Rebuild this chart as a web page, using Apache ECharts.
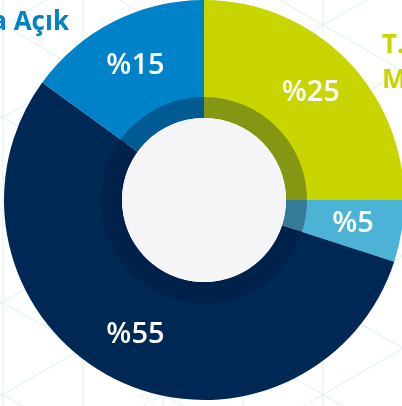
<!DOCTYPE html>
<html>
<head>
<meta charset="utf-8">
<script src="https://cdn.jsdelivr.net/npm/echarts@6/dist/echarts.min.js"></script>
<style>
  html, body { margin: 0; padding: 0; background: #ffffff; }
  #chart { width: 402px; height: 406px; }
</style>
</head>
<body>
<div id="chart"></div>
<script>
// slices, clockwise from 12 o'clock
const categories = ["T.C.\nMerkez", "Diğer", "Kapalı", "Yarıya Açık"];
const values = [25, 5, 55, 15];
const labels = ["%25", "%5", "%55", "%15"];
const colors = ["#c8d500", "#4db3d6", "#002855", "#0082c8"];
const ringColors = ["#849612", "#347b99", "#00214a", "#005a94"];

const chart = echarts.init(document.getElementById("chart"));

// faint triangular background pattern
const grid = [];
const t30 = Math.tan(Math.PI / 6);
for (let x = 3; x <= 410; x += 80) {
  grid.push({ type: "line", shape: { x1: x, y1: 0, x2: x, y2: 406 }, style: { stroke: "#e2f3f5", lineWidth: 1.2 } });
}
for (let n = -8; n <= 8; n++) {
  const y0 = 25 + 92.4 * n;
  grid.push({ type: "line", shape: { x1: 0, y1: y0 - 323 * t30, x2: 402, y2: y0 + 79 * t30 }, style: { stroke: "#e2f3f5", lineWidth: 1.2 } });
  grid.push({ type: "line", shape: { x1: 0, y1: y0 + 323 * t30, x2: 402, y2: y0 - 79 * t30 }, style: { stroke: "#e2f3f5", lineWidth: 1.2 } });
}

chart.setOption({
  animation: false,
  graphic: [
    { type: "group", z: -10, silent: true, children: grid },
    {
      type: "text", z: 10, right: 333, top: 10,
      style: { text: categories[3], fill: "#0082c8", font: "bold 26px 'Open Sans'", textAlign: "right" }
    },
    {
      type: "text", z: 10, left: 382, top: 28,
      style: { text: categories[0], fill: "#c8d500", font: "bold 26px 'Open Sans'", lineHeight: 35 }
    }
  ],
  series: [
    {
      type: "pie",
      center: [204, 200],
      radius: [96, 200],
      startAngle: 90,
      clockwise: true,
      silent: true,
      z: 2,
      label: {
        show: true,
        position: "inside",
        color: "#fff",
        fontFamily: "Open Sans",
        fontWeight: 600,
        fontSize: 29,
        formatter: p => labels[p.dataIndex]
      },
      labelLine: { show: false },
      data: categories.map((c, i) => ({ name: c, value: values[i], itemStyle: { color: colors[i] } }))
    },
    {
      type: "pie",
      center: [204, 200],
      radius: [82, 103],
      startAngle: 90,
      silent: true,
      z: 3,
      label: { show: false },
      labelLine: { show: false },
      data: categories.map((c, i) => ({ name: c, value: values[i], itemStyle: { color: ringColors[i] } }))
    },
    {
      type: "pie",
      center: [204, 200],
      radius: [0, 82],
      silent: true,
      z: 4,
      label: { show: false },
      labelLine: { show: false },
      data: [{ value: 1, itemStyle: { color: "#f5f5f7" } }]
    }
  ]
});
</script>
</body>
</html>
